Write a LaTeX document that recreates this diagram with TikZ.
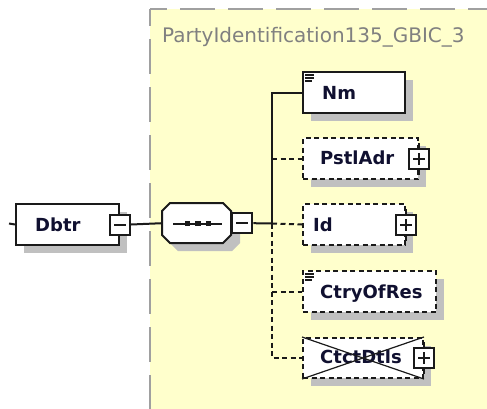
\documentclass[tikz,border=0pt]{standalone}
\usepackage{fontspec}
\setmainfont{DejaVu Sans}
\usetikzlibrary{shadows}
\definecolor{yel}{HTML}{FFFFCC}
\definecolor{bordergray}{HTML}{A0A0A0}
\definecolor{shadowgray}{HTML}{C0C0C0}
\definecolor{titlegray}{HTML}{808080}
\definecolor{txt}{HTML}{101030}
\definecolor{ink}{HTML}{1A1A1A}
\begin{document}
\begin{tikzpicture}[x=1pt,y=-1pt,
  el/.style={draw=ink, line width=2pt, fill=white, anchor=north west, inner sep=0pt,
    minimum height=41pt,
    drop shadow={shadow xshift=8pt, shadow yshift=-8pt, opacity=1, fill=shadowgray}},
  opt/.style={el, dash pattern=on 5pt off 3.5pt},
  lbl/.style={anchor=base west, inner sep=0pt, font=\fontsize{18}{20}\selectfont\bfseries, text=txt},
  conn/.style={line width=2pt, draw=ink},
  dconn/.style={conn, dash pattern=on 5pt off 3.5pt},
  pm/.style={draw=ink, line width=2pt, fill=white, minimum size=20pt, inner sep=0pt},
  minusbox/.style={pm, path picture={\draw[line width=2pt, ink]
      ([xshift=-6pt]path picture bounding box.center) -- ([xshift=6pt]path picture bounding box.center);}},
  plusbox/.style={pm, path picture={\draw[line width=2pt, ink]
      ([xshift=-6pt]path picture bounding box.center) -- ([xshift=6pt]path picture bounding box.center)
      ([yshift=-6pt]path picture bounding box.center) -- ([yshift=6pt]path picture bounding box.center);}},
  border/.style={draw=bordergray, line width=2.5pt, dash pattern=on 35pt off 13pt, dash phase=18pt},
  icon/.style={draw=ink, line width=1.2pt}
]
\useasboundingbox (0,0) rectangle (487,408);
\clip (0,0) rectangle (487,408);

% complex type region
\fill[yel] (150,9) rectangle (500,420);
\draw[border] (150,9) -- (500,9);
\draw[border] (150,9) -- (150,420);
\node[anchor=base west, inner sep=0pt, font=\fontsize{20}{22}\selectfont, text=titlegray] (title) at (162,42) {PartyIdentification135\_GBIC\_3};

% Dbtr element
\node[el, minimum width=103pt] (dbtr) at (15,203) {};
\node[lbl] (dbtrT) at (35,231) {Dbtr};
\node[minusbox] (dbtrM) at (dbtr.east) {};
\coordinate (dbtrIn) at (9,223.5);
\draw[conn] (dbtrIn) -- (dbtr.west);

% sequence compositor
\node[inner sep=0pt, minimum width=69pt, minimum height=40pt, anchor=north west] (seq) at (162,203) {};
\fill[shadowgray] (178,211) -- (232,211) -- (240,219) -- (240,243) -- (232,251) -- (178,251) -- (170,243) -- (170,219) -- cycle;
\draw[conn, fill=white] (170,203) -- (223,203) -- (231,211) -- (231,235) -- (223,243) -- (170,243) -- (162,235) -- (162,211) -- cycle;
\draw[line width=2pt, ink] (173,223.5) -- (222,223.5);
\fill[ink] (184.5,221) rectangle (190,226);
\fill[ink] (195,221) rectangle (200.5,226);
\fill[ink] (205.5,221) rectangle (211,226);
\node[minusbox, anchor=west] (seqM) at (seq.east) {};
\draw[conn] (dbtrM.east) -- (seq.west);

% children
\node[el, minimum width=102pt] (nm) at (302,71) {};
\node[lbl] (nmT) at (322,99) {Nm};
\draw[icon] (305,75) -- (314,75) (305,78) -- (314,78) (305,81) -- (312,81);

\node[opt, minimum width=115pt] (pstl) at (302,137) {};
\node[lbl] (pstlT) at (320,164) {PstlAdr};
\node[plusbox] (pstlP) at (pstl.east) {};
\draw[conn] (pstlP.north) -- ++(0,-5) (pstlP.south) -- ++(0,5);

\node[opt, minimum width=102pt] (id) at (302,203) {};
\node[lbl] (idT) at (313,231) {Id};
\node[plusbox] (idP) at (id.east) {};
\draw[conn] (idP.north) -- ++(0,-5) (idP.south) -- ++(0,5);

\node[opt, minimum width=133pt] (ctry) at (302,270) {};
\node[lbl] (ctryT) at (320,298) {CtryOfRes};
\draw[icon] (305,274) -- (314,274) (305,277) -- (314,277) (305,280) -- (312,280);

\node[opt, minimum width=120pt, minimum height=40pt] (ctct) at (302,337) {};
\node[lbl] (ctctT) at (320,363) {CtctDtls};
\draw[line width=1.2pt, ink] (ctct.north west) -- (ctct.south east) (ctct.south west) -- (ctct.north east);
\node[plusbox] (ctctP) at (ctct.east) {};
\draw[conn] (ctctP.north) -- ++(0,-5) (ctctP.south) -- ++(0,5);

% connectors
\coordinate (hub) at (272,223.5);
\draw[conn] (seqM.east) -- (hub);
\draw[conn] (hub) |- (nm.west);
\draw[dconn] (hub |- pstl.west) -- (pstl.west);
\draw[dconn] (hub) -- (id.west);
\draw[dconn] (hub |- ctry.west) -- (ctry.west);
\draw[dconn] (hub) |- (ctct.west);
\end{tikzpicture}
\end{document}
